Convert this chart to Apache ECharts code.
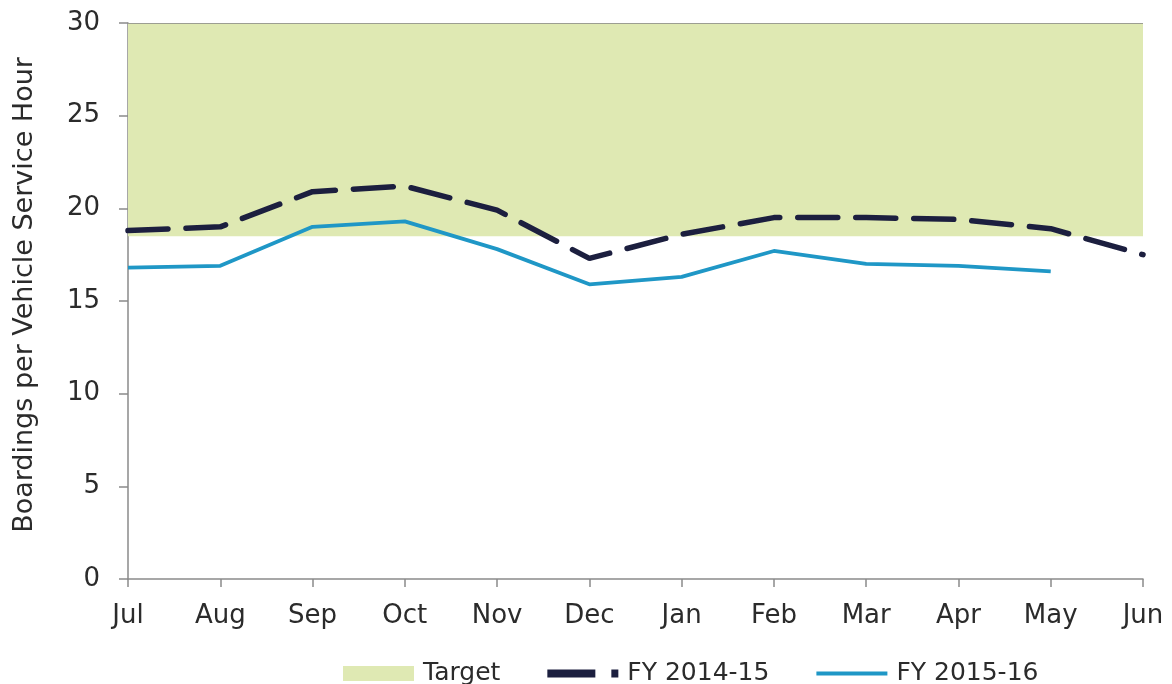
<!DOCTYPE html>
<html>
<head>
<meta charset="utf-8">
<script src="https://cdn.jsdelivr.net/npm/echarts@6/dist/echarts.min.js"></script>
<style>
  html, body { margin: 0; padding: 0; background: #ffffff; }
  #chart { width: 1172px; height: 684px; }
</style>
</head>
<body>
<div id="chart"></div>
<script>
// Monthly boardings per vehicle service hour, fiscal year July to June
const months = ['Jul', 'Aug', 'Sep', 'Oct', 'Nov', 'Dec', 'Jan', 'Feb', 'Mar', 'Apr', 'May', 'Jun'];
const fy1415 = [18.8, 19.0, 20.9, 21.2, 19.9, 17.3, 18.6, 19.5, 19.5, 19.4, 18.9, 17.5];
const fy1516 = [16.8, 16.9, 19.0, 19.3, 17.8, 15.9, 16.3, 17.7, 17.0, 16.9, 16.6, null];
// Target band: lower and upper bound of the productivity goal
const targetRange = [18.5, 30];
const yTicks = { min: 0, max: 30, interval: 5 };

const FONT = 'DejaVu Sans';
const TEXT = '#2b2b2b';
const AXIS = '#8a8a8a';
const GREEN = '#dfe9b3';
const NAVY = '#1c1f3f';
const TEAL = '#1f97c6';

// Legend swatches: a thick dash followed by a short dot, and a plain stroke
const ICON_DASH = 'path://M0,0 L48,0 L48,8 L0,8 Z M64,0 L71,0 L71,8 L64,8 Z';
const ICON_LINE = 'path://M0,0 L73,0 L73,4 L0,4 Z';

const chart = echarts.init(document.getElementById('chart'), null, { renderer: 'canvas' });

chart.setOption({
  backgroundColor: '#ffffff',
  animation: false,
  textStyle: { fontFamily: FONT, color: TEXT },
  grid: { left: 128, right: 29, top: 23, bottom: 105 },
  legend: {
    left: 338,
    top: 656,
    itemWidth: 71,
    itemHeight: 15,
    itemGap: 47,
    textStyle: { fontFamily: FONT, fontSize: 25, color: TEXT, padding: [0, 0, 0, 4] },
    data: [
      { name: 'Target', icon: 'rect', itemStyle: { color: GREEN } },
      { name: 'FY 2014-15', icon: ICON_DASH, itemStyle: { color: NAVY } },
      { name: 'FY 2015-16', icon: ICON_LINE, itemStyle: { color: TEAL } }
    ]
  },
  xAxis: {
    type: 'category',
    data: months,
    boundaryGap: false,
    axisLine: { lineStyle: { color: AXIS, width: 1.5 } },
    axisTick: { show: true, length: 8, inside: false, lineStyle: { color: AXIS, width: 1.5 } },
    axisLabel: { fontFamily: FONT, fontSize: 26, color: TEXT, margin: 24 },
    splitLine: { show: false }
  },
  yAxis: {
    type: 'value',
    min: yTicks.min,
    max: yTicks.max,
    interval: yTicks.interval,
    name: 'Boardings per Vehicle Service Hour',
    nameLocation: 'middle',
    nameGap: 90,
    nameRotate: 90,
    nameTextStyle: { fontFamily: FONT, fontSize: 27, color: TEXT, padding: [0, 0, 0, 12] },
    axisLine: { show: true, lineStyle: { color: AXIS, width: 1.5 } },
    axisTick: { show: true, length: 9, lineStyle: { color: AXIS, width: 1.5 } },
    axisLabel: { fontFamily: FONT, fontSize: 26, color: TEXT, margin: 28 },
    splitLine: { show: false }
  },
  series: [
    {
      name: 'Target',
      type: 'line',
      data: [],
      itemStyle: { color: GREEN },
      markArea: {
        silent: true,
        itemStyle: { color: GREEN },
        data: [[{ yAxis: targetRange[0] }, { yAxis: targetRange[1] }]]
      },
      markLine: {
        silent: true,
        symbol: 'none',
        label: { show: false },
        lineStyle: { color: '#9c9e92', type: 'solid', width: 1.2 },
        data: [{ yAxis: targetRange[1] }]
      }
    },
    {
      name: 'FY 2014-15',
      type: 'line',
      data: fy1415,
      symbol: 'none',
      itemStyle: { color: NAVY },
      lineStyle: { color: NAVY, width: 5.5, type: [40, 18], cap: 'round' },
      z: 3
    },
    {
      name: 'FY 2015-16',
      type: 'line',
      data: fy1516,
      symbol: 'none',
      itemStyle: { color: TEAL },
      lineStyle: { color: TEAL, width: 3.8 },
      z: 4
    }
  ]
});
</script>
</body>
</html>
